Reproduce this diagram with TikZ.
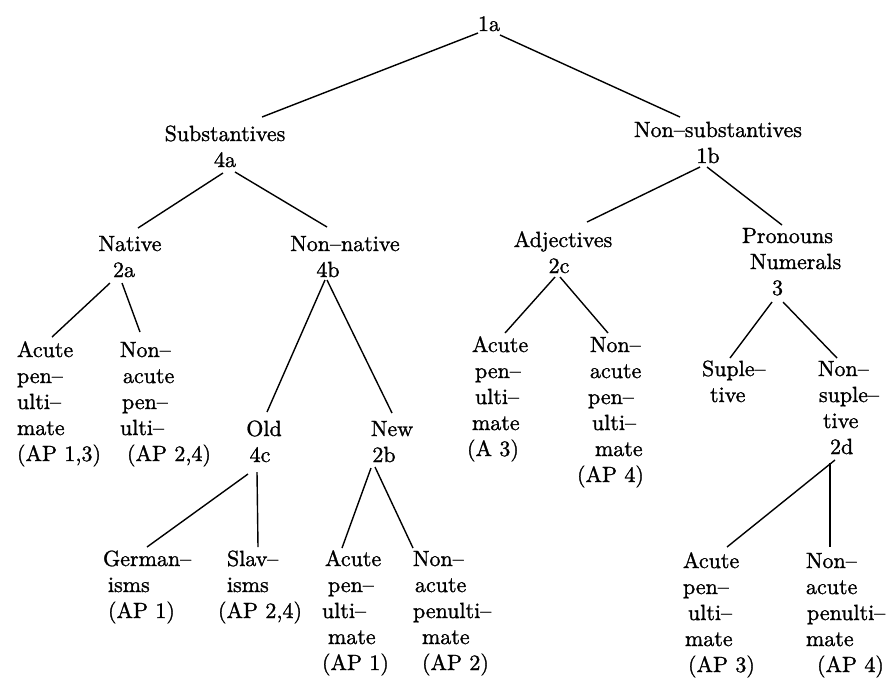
\documentclass[tikz,border=0pt]{standalone}
\usepackage{fontspec}
\setmainfont{lmroman10-regular.otf}[FakeBold=1.2]
\usetikzlibrary{calc}
\newcommand\cstack[1]{\vtop{\baselineskip=13pt\lineskiplimit=-20pt\halign{\hfil##\hfil\cr#1\crcr}}}
\newcommand\lstack[1]{\vtop{\baselineskip=13pt\lineskiplimit=-20pt\halign{##\hfil\cr#1\crcr}}}
\begin{document}
\begin{tikzpicture}[x=0.5pt,y=-0.5pt,
  every node/.style={inner sep=0pt,outer sep=0pt},
  cnode/.style={anchor=base},
  lnode/.style={anchor=base west},
  edge/.style={line width=0.7pt},
  font=\fontsize{11}{13}\selectfont]
\useasboundingbox (0,0) rectangle (886,682);
\node[cnode] (n1a) at (489,31) {1a};
\node[cnode] (subst) at (225,141) {\cstack{Substantives\cr 4a}};
\node[cnode] (nonsubst) at (718,137) {\cstack{Non--substantives\cr 1b\kern10pt}};
\node[cnode] (native) at (130,251) {\cstack{Native\cr 2a\kern6pt}};
\node[cnode] (nonnative) at (345,251) {\cstack{Non--native\cr 4b\kern17pt}};
\node[cnode] (adj) at (563,247) {\cstack{Adjectives\cr 2c\kern4pt}};
\node[lnode] (pron) at (742,243) {\lstack{Pronouns\cr\kern4pt Numerals\cr\kern15pt 3}};
\node[lnode] (acA) at (17,357) {\lstack{Acute\cr pen--\cr ulti--\cr mate\cr (AP 1,3)}};
\node[lnode] (nacA) at (120,357) {\lstack{Non--\cr\kern1.5pt acute\cr\kern1pt pen--\cr ulti--\cr\kern3.5pt (AP 2,4)}};
\node[cnode] (old) at (264,436) {\cstack{Old\cr 4c\kern4pt}};
\node[cnode] (new) at (392,436) {\cstack{New\cr 2b\kern8pt}};
\node[lnode] (acB) at (467,352) {\lstack{\kern2.5pt Acute\cr\kern4pt pen--\cr\kern4pt ulti--\cr\kern2.5pt mate\cr (A 3)}};
\node[lnode] (nacB) at (577,352) {\lstack{\kern6.5pt Non--\cr\kern6.5pt acute\cr\kern5.5pt pen--\cr\kern7.5pt ulti--\cr\kern9pt mate\cr (AP 4)}};
\node[lnode] (sup) at (702,376) {\lstack{Suple--\cr\kern4pt tive}};
\node[lnode] (nsup) at (818,376) {\lstack{Non--\cr\kern0.5pt suple--\cr\kern2.5pt tive\cr\kern6pt 2d}};
\node[lnode] (germ) at (103,566) {\lstack{German--\cr\kern2.5pt isms\cr\kern2.5pt (AP 1)}};
\node[lnode] (slav) at (218,566) {\lstack{\kern4.5pt Slav--\cr\kern4.5pt isms\cr (AP 2,4)}};
\node[lnode] (acC) at (322,566) {\lstack{\kern1.5pt Acute\cr\kern3pt pen--\cr ulti--\cr\kern3pt mate\cr (AP 1)}};
\node[lnode] (nacC) at (413,566) {\lstack{Non--\cr\kern1pt acute\cr penulti--\cr\kern4.5pt mate\cr\kern4.5pt (AP 2)}};
\node[lnode] (acD) at (683,568) {\lstack{Acute\cr pen--\cr\kern2.5pt ulti--\cr\kern1pt mate\cr\kern2.5pt (AP 3)}};
\node[lnode] (nacD) at (806,568) {\lstack{Non--\cr acute\cr\kern0.5pt penulti--\cr mate\cr\kern5.5pt (AP 4)}};
\draw[edge] ($(n1a.base)+(-11,2)$) -- ($(subst.base)+(37,-24)$);
\draw[edge] ($(n1a.base)+(11,4)$) -- ($(nonsubst.base)+(-38,-20)$);
\draw[edge] ($(subst.base)+(-2,32)$) -- ($(native.base)+(8,-23)$);
\draw[edge] ($(subst.base)+(10,31)$) -- ($(nonnative.base)+(-18,-24)$);
\draw[edge] ($(nonsubst.base)+(-18,30)$) -- ($(adj.base)+(24,-25)$);
\draw[edge] ($(nonsubst.base)+(-11,30)$) -- ($(pron.base west)+(40,-18)$);
\draw[edge] ($(native.base)+(-20,32)$) -- ($(acA.base west)+(35,-20)$);
\draw[edge] ($(native.base)+(-8,32)$) -- ($(nacA.base west)+(20,-25)$);
\draw[edge] ($(nonnative.base)+(-20,29)$) -- ($(old.base)+(3,-24)$);
\draw[edge] ($(nonnative.base)+(-18,29)$) -- ($(new.base)+(0,-23)$);
\draw[edge] ($(adj.base)+(-8,30)$) -- ($(acB.base west)+(38,-19)$);
\draw[edge] ($(adj.base)+(-3,30)$) -- ($(nacB.base west)+(31,-19)$);
\draw[edge] ($(pron.base west)+(30,59)$) -- ($(sup.base west)+(28,-18)$);
\draw[edge] ($(pron.base west)+(41,59)$) -- ($(nsup.base west)+(19,-18)$);
\draw[edge] ($(old.base)+(-16,38)$) -- ($(germ.base west)+(44,-19)$);
\draw[edge] ($(old.base)+(-7,36)$) -- ($(slav.base west)+(40,-19)$);
\draw[edge] ($(new.base)+(-21,32)$) -- ($(acC.base west)+(20,-18)$);
\draw[edge] ($(new.base)+(-17,31)$) -- ($(nacC.base west)+(0,-18)$);
\draw[edge] ($(nsup.base west)+(17,84)$) -- ($(acD.base west)+(44,-21)$);
\draw[edge] ($(nsup.base west)+(12,87)$) -- ($(nacD.base west)+(24,-21)$);
\end{tikzpicture}
\end{document}
